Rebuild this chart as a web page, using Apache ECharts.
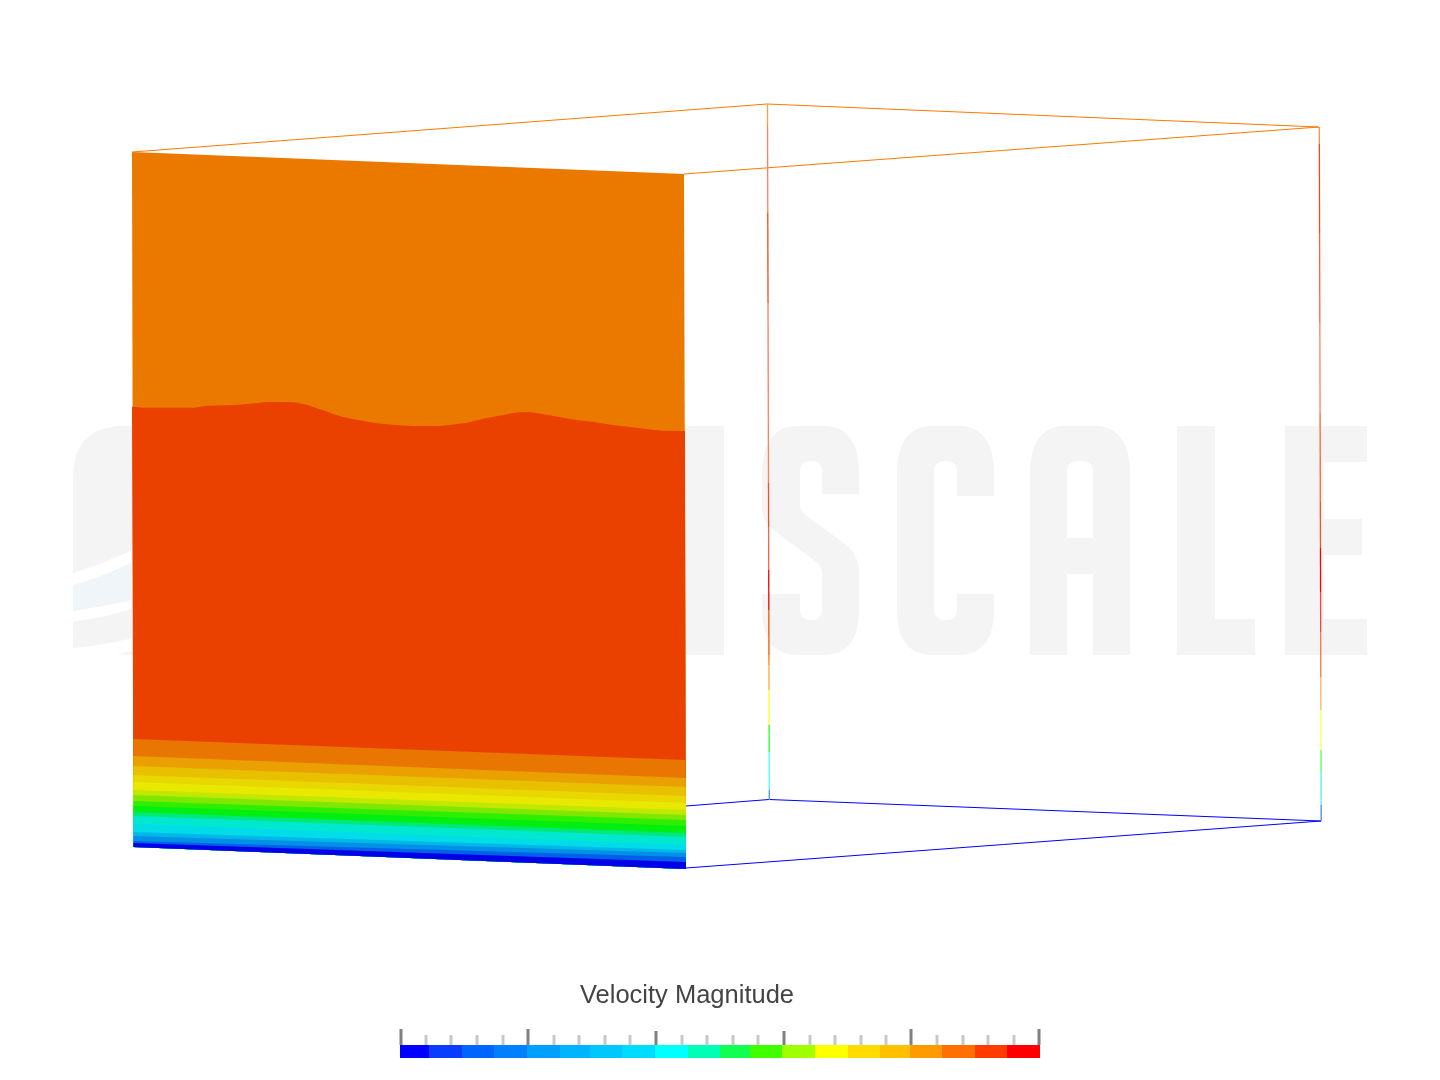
<!DOCTYPE html>
<html><head><meta charset="utf-8">
<style>html,body{margin:0;padding:0;background:#fff}#c{width:1440px;height:1080px}</style>
<script src="https://cdn.jsdelivr.net/npm/echarts@6/dist/echarts.min.js"></script>
</head><body><div id="c"></div>
<script>
const titleText = 'Velocity Magnitude';

// Contour bands of the visible face, top to bottom
const faceLeftX = [132, 133.5];   // at top, at bottom
const faceRightX = [684, 686];
const faceTopY = [152, 174];      // left, right
const waveX = [132,144,194,207,235,251,267,280,294,307,316,325,333,344,358,373,392,412,441,466,487,498,508,519,530,548,558,576,594,612,630,648,662,685];
const waveY = [406.7,407.7,407.7,405.7,405,403.7,402,402,402.3,404.7,408,410.7,414,417.3,420,422.7,424.7,426,426,423,418,416,414,412.3,412,415,416.7,420,422,425,427,429.3,430.7,431];
const bandColors = ['#ea4100','#e97600','#e9a000','#e8c000','#e8d800','#e8e800','#c0e800','#80e800','#30ee00','#00ee10','#00e878','#00e8d0','#00dce8','#00b8e8','#0090e8','#0060e8','#0000e8'];
const bandLeftY  = [739,756,766,775,782,790,795,801,806,812,816,824,832,836,841,843,847];
const bandRightY = [760,778,787,796,803,810,815,820,826,833,837,845,850,853,857,862,869];
const topFaceColor = '#eb7900';

// Wireframe edges [x1,y1,x2,y2]
const topEdges = [[132,152,767,104],[684,174,1319,127],[767,104,1319,127]];
const bottomEdges = [[686,806,769,799.5],[769,799.5,1321,821],[686,868,1321,821]];
const edgeTopColor = '#ff7a00';
const edgeBottomColor = '#0000ff';

// Back vertical edges: x range + colour stops [yFrom,yTo,colour]
const backLeftX = [767.5,769.3];
const backLeftStops = [[104,125,'#ffa040'],[125,213,'#ff8060'],[213,303,'#f04a10'],[303,393,'#ff7a58'],[393,483,'#ff8060'],[483,527,'#ff4a20'],[527,570,'#ff6040'],[570,610,'#ff0000'],[610,655,'#ff5000'],[655,665,'#ff8000'],[665,690,'#ffa840'],[690,725,'#ffff10'],[725,752,'#20ff20'],[752,790,'#40ffff'],[790,800,'#5090ff']];
const backRightX = [1319.3,1321.2];
const backRightStops = [[127,144,'#ff9040'],[144,233,'#f04a18'],[233,323,'#ff6040'],[323,413,'#ff8060'],[413,502,'#ff6030'],[502,548,'#ff5018'],[548,592,'#ff0000'],[592,632,'#ff4040'],[632,677,'#ff7040'],[677,710,'#ffb060'],[710,750,'#ffff50'],[750,772,'#50ff50'],[772,805,'#50f0f0'],[805,821,'#5080f0']];

// Colour bar
const barEdges = [400,429,462,494,527,560,590,622,655,688,720,750,782,815,848,880,910,942,975,1007,1040];
const barColors = ['#0000ff','#0a3cff','#0064ff','#0080ff','#00a0ff','#00b4ff','#00c8ff','#00dcff','#00ffff','#00ffb4','#10ff50','#40ff00','#a0ff00','#ffff00','#ffdc00','#ffc000','#ff9a00','#ff7000','#ff3c00','#ff0000'];
const barTop = 1045, barBottom = 1058;
const majorTicks = [[401,1029],[528,1029],[656,1031],[784,1031],[911,1029],[1039,1029]];
const minorTicks = [426,451,477,503,554,579,605,630,682,707,733,758,810,835,861,886,937,963,988,1014];
const minorTop = 1035;

// Faint background wordmark, drawn as shapes
const markGray = '#f4f4f4', markBlue = '#f0f5fa', markHole = '#ffffff';
const markShapes = [
 {c:markGray,d:'M73 573 L73 478 Q73 426 125 426 L132 426 L132 550 Q105 563 73 573 Z'},
 {c:markBlue,d:'M73 585 Q105 576 132 562 L132 600 Q105 606 73 611 Z'},
 {c:markGray,d:'M73 622 Q105 617 132 609 L132 638 Q105 645 73 648 Z'},
 {c:markGray,d:'M117 654 L132 651 L132 655 Z'},
 {c:markGray,d:'M680 426 L724 426 L724 655 L680 655 Z'},
 {c:markGray,d:'M762 474 Q762 426 798 426 L823 426 Q859 426 859 474 L859 494 L822 494 L822 472 Q822 461 811 461 Q800 461 800 472 L800 505 Q800 511 808 517 L841 541 Q859 553 859 572 L859 610 Q859 655 823 655 L798 655 Q762 655 762 610 L762 594 L800 594 L800 609 Q800 620 811 620 Q822 620 822 609 L822 574 Q822 566 815 561 L776 532 Q762 522 762 506 Z'},
 {c:markGray,d:'M897 474 Q897 426 933 426 L958 426 Q994 426 994 474 L994 496 L957 496 L957 472 Q957 461 946 461 Q934 461 934 472 L934 609 Q934 620 946 620 Q957 620 957 609 L957 594 L994 594 L994 610 Q994 655 958 655 L933 655 Q897 655 897 610 Z'},
 {c:markGray,d:'M1030 474 Q1030 426 1066 426 L1094 426 Q1130 426 1130 474 L1130 655 L1093 655 L1093 574 L1067 574 L1067 655 L1030 655 Z'},
 {c:markHole,d:'M1067 538 L1093 538 L1093 472 Q1093 461 1082 461 L1078 461 Q1067 461 1067 472 Z'},
 {c:markGray,d:'M1177 426 L1215 426 L1215 619 L1255 619 L1255 655 L1177 655 Z'},
 {c:markGray,d:'M1285 426 L1367 426 L1367 462 L1324 462 L1324 519 L1362 519 L1362 555 L1324 555 L1324 619 L1367 619 L1367 655 L1285 655 Z'}
];

function flatten(d){
  const t=d.trim().split(/\s+/),pts=[];let i=0,cur=[0,0];
  while(i<t.length){
    const tok=t[i];const c=tok[0];
    if(c==='Z'){i++;continue;}
    if(c==='M'||c==='L'){cur=[+tok.slice(1),+t[i+1]];pts.push(cur);i+=2;}
    else if(c==='Q'){
      const cx=+tok.slice(1),cy=+t[i+1],x=+t[i+2],y=+t[i+3];
      for(let k=1;k<=12;k++){const u=k/12,v=1-u;pts.push([v*v*cur[0]+2*u*v*cx+u*u*x,v*v*cur[1]+2*u*v*cy+u*u*y]);}
      cur=[x,y];i+=4;
    }else i++;
  }
  return pts;
}
function lerp(a,b,t){return a+(b-a)*t;}
const leftEnd=bandLeftY[bandLeftY.length-1], rightEnd=bandRightY[bandRightY.length-1];
function faceXAtLeft(y){return lerp(faceLeftX[0],faceLeftX[1],(y-faceTopY[0])/(leftEnd-faceTopY[0]));}
function faceXAtRight(y){return lerp(faceRightX[0],faceRightX[1],(y-faceTopY[1])/(rightEnd-faceTopY[1]));}

function poly(api,pts,fill){
  return {type:'polygon',shape:{points:pts.map(p=>api.coord(p))},style:{fill:fill},silent:true};
}
function line(api,x1,y1,x2,y2,col,w){
  const a=api.coord([x1,y1]),b=api.coord([x2,y2]);
  return {type:'line',shape:{x1:a[0],y1:a[1],x2:b[0],y2:b[1]},style:{stroke:col,lineWidth:w,fill:null},silent:true};
}
function customSeries(n,render,z){
  const data=[];for(let i=0;i<n;i++)data.push([i]);
  return {type:'custom',coordinateSystem:'cartesian2d',data:data,renderItem:render,z:z,clip:false,silent:true,animation:false,encode:{x:0,y:0}};
}
function vertical(xs,stops,yMin,yMax){
  return (p,api)=>{
    const s=stops[p.dataIndex],f=y=>lerp(xs[0],xs[1],(y-yMin)/(yMax-yMin));
    return line(api,f(s[0]),s[0],f(s[1]),s[1],s[2],1.3);
  };
}

const series=[
  customSeries(markShapes.length,(p,api)=>{
    const m=markShapes[p.dataIndex];
    return poly(api,flatten(m.d),m.c);
  },1),
  customSeries(1,(p,api)=>{
    // whole face; bands below paint over it
    return poly(api,[[faceLeftX[0],faceTopY[0]],[faceRightX[0],faceTopY[1]],[faceRightX[1],rightEnd],[faceLeftX[1],leftEnd]],topFaceColor);
  },4),
  customSeries(bandColors.length,(p,api)=>{
    const i=p.dataIndex;
    const pts=[];
    if(i===0){
      for(let k=0;k<waveX.length;k++)pts.push([waveX[k],waveY[k]]);
    }else{
      pts.push([faceXAtLeft(bandLeftY[i-1]),bandLeftY[i-1]],[faceXAtRight(bandRightY[i-1]),bandRightY[i-1]]);
    }
    pts.push([faceRightX[1],rightEnd],[faceLeftX[1],leftEnd]);
    return poly(api,pts,bandColors[i]);
  },4),
  customSeries(topEdges.length,(p,api)=>{const e=topEdges[p.dataIndex];return line(api,e[0],e[1],e[2],e[3],edgeTopColor,1);},3),
  customSeries(bottomEdges.length,(p,api)=>{const e=bottomEdges[p.dataIndex];return line(api,e[0],e[1],e[2],e[3],edgeBottomColor,1);},3),
  customSeries(backLeftStops.length,vertical(backLeftX,backLeftStops,104,800),3),
  customSeries(backRightStops.length,vertical(backRightX,backRightStops,127,821),3),
  customSeries(barColors.length,(p,api)=>{
    const i=p.dataIndex;
    return poly(api,[[barEdges[i],barTop],[barEdges[i+1],barTop],[barEdges[i+1],barBottom],[barEdges[i],barBottom]],barColors[i]);
  },5),
  customSeries(minorTicks.length,(p,api)=>line(api,minorTicks[p.dataIndex],minorTop,minorTicks[p.dataIndex],barTop,'#c8c8c8',3),5),
  customSeries(majorTicks.length,(p,api)=>{const t=majorTicks[p.dataIndex];return line(api,t[0],t[1],t[0],barTop,'#808080',3);},5)
];

const chart=echarts.init(document.getElementById('c'),null,{renderer:'canvas'});
chart.setOption({
  animation:false,
  backgroundColor:'#ffffff',
  title:{text:titleText,left:682,top:978,textAlign:'center',textStyle:{fontFamily:'"Liberation Sans",Arial,sans-serif',fontSize:25.5,fontWeight:'normal',color:'#444444'}},
  grid:{left:0,right:0,top:0,bottom:0,containLabel:false},
  xAxis:{type:'value',min:0,max:1440,show:false},
  yAxis:{type:'value',min:0,max:1080,inverse:true,show:false},
  series:series
});
</script></body></html>
